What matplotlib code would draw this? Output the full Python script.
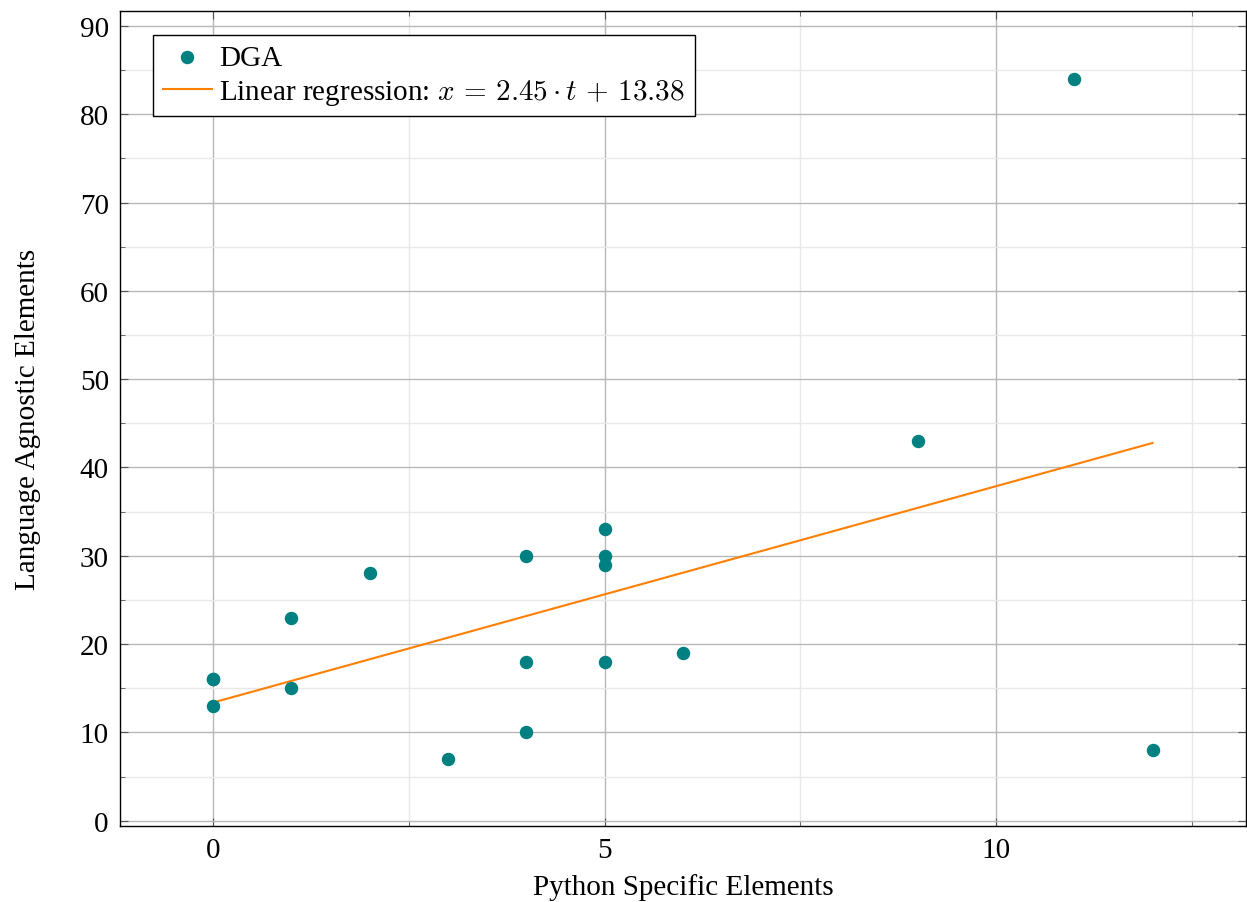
import numpy as np
import matplotlib.pyplot as plt
from matplotlib.ticker import MultipleLocator

plt.rcParams['font.family'] = ['Liberation Serif', 'DejaVu Serif']
plt.rcParams['mathtext.fontset'] = 'cm'

python_specific = [0, 0, 0, 1, 1, 2, 3, 4, 4, 4, 5, 5, 5, 5, 6, 9, 11, 12]
language_agnostic = [16, 16, 13, 23, 15, 28, 7, 30, 18, 10, 33, 30, 29, 18, 19, 43, 84, 8]
slope = 2.45
intercept = 13.38

fig = plt.figure(figsize=(12.47, 9.03), dpi=100)
ax = fig.add_axes([0.0962, 0.0842, 0.9028, 0.9025])

ax.scatter(python_specific, language_agnostic, s=75, color='#008080', zorder=3, label='DGA')
xl = np.array([min(python_specific), max(python_specific)])
ax.plot(xl, slope * xl + intercept, color='#ff7f00', lw=1.5, zorder=2,
        label=r'Linear regression: $x\,=\,2.45\cdot t\,+\,13.38$')

ax.set_xlim(-1.19, 13.19)
ax.set_ylim(-0.6, 91.7)
ax.xaxis.set_major_locator(MultipleLocator(5))
ax.xaxis.set_minor_locator(MultipleLocator(2.5))
ax.yaxis.set_major_locator(MultipleLocator(10))
ax.yaxis.set_minor_locator(MultipleLocator(5))
ax.grid(which='major', color='#b8b8b8', lw=1.0, zorder=0)
ax.grid(which='minor', color='#e8e8e8', lw=1.0, zorder=0)
ax.set_axisbelow(True)
ax.tick_params(which='both', direction='in', top=True, right=True, labelsize=21, color='#555555')
ax.tick_params(which='major', length=6, pad=8)
ax.tick_params(which='minor', length=3.5)
for s in ax.spines.values():
    s.set_linewidth(1.0)

ax.set_xlabel('Python Specific Elements', fontsize=21, labelpad=7)
ax.set_ylabel('Language Agnostic Elements', fontsize=21, labelpad=28)

leg = ax.legend(loc='upper left', bbox_to_anchor=(0.0293, 0.9706), borderaxespad=0,
                fontsize=21, fancybox=False, framealpha=1, edgecolor='black',
                handlelength=1.7, handletextpad=0.25, borderpad=0.33, labelspacing=0.2,
                scatterpoints=1)
leg.get_frame().set_linewidth(1.0)

fig.savefig('out.png', dpi=100)
